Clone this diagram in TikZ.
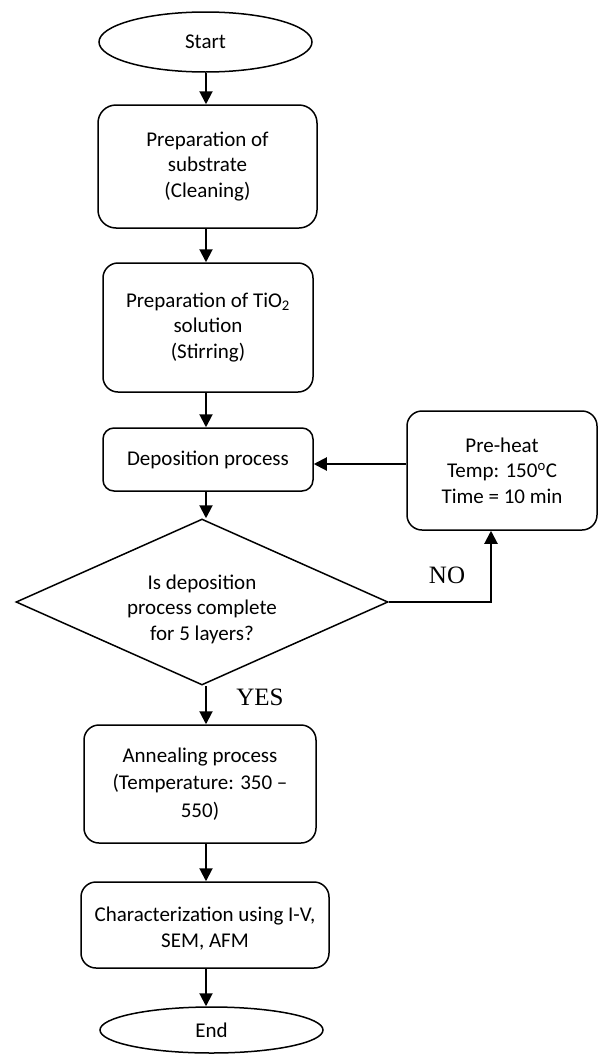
\documentclass[tikz,border=0pt]{standalone}
\usepackage{fontspec}
\setmainfont{Carlito}
\newfontfamily\tnr{Liberation Serif}
\usetikzlibrary{shapes.geometric,arrows.meta}
\begin{document}
\begin{tikzpicture}[x=1pt,y=-1pt,
  every node/.style={font=\fontsize{21}{25.5}\selectfont, inner sep=0pt, align=center},
  term/.style={draw, line width=1.5pt, ellipse},
  proc/.style={draw, line width=1.5pt, rounded corners=15pt, rectangle},
  dec/.style={draw, line width=1.5pt, diamond, aspect=2.24},
  arr/.style={line width=2pt, -{Triangle[width=13pt,length=13pt]}},
  lab/.style={font=\tnr\fontsize{25}{30}\selectfont}]
\useasboundingbox (0,0) rectangle (602,1055);
\fill[white] (0,0) rectangle (602,1055);
\coordinate (col) at (206,0);
\coordinate (nox) at (491,0);
\coordinate (m) at (0,464);

\node[term, minimum width=213pt, minimum height=60pt] (start) at (205.5,42) {Start};
\node[proc, minimum width=219pt, minimum height=123pt, rounded corners=18pt] (b1) at (207.5,166.5) {Preparation of\\substrate\\(Cleaning)};
\node[proc, minimum width=210pt, minimum height=129pt] (b2) at (208,327.5) {Preparation of TiO\textsubscript{2}\\solution\\(Stirring)};
\node[proc, minimum width=210pt, minimum height=63pt, rounded corners=11pt] (b3) at (208,459.5) {Deposition process};
\node[proc, minimum width=190pt, minimum height=119pt] (pre) at (502,470.5) {Pre-heat\\Temp: 150\textsuperscript{o}C\\Time = 10 min};
\node[dec, minimum width=372pt, minimum height=166pt] (dia) at (202,602) {\rule{0pt}{29pt}Is deposition\\process complete\\for 5 layers?};
\node[proc, minimum width=232pt, minimum height=118pt, font=\fontsize{21}{27.5}\selectfont] (b4) at (200,784) {Annealing process\\(Temperature: 350 --\\550)};
\node[proc, minimum width=248pt, minimum height=86pt] (b5) at (205,925) {\rule{0pt}{22pt}Characterization using I-V,\\SEM, AFM};
\node[term, minimum width=223pt, minimum height=46pt] (end) at (211.5,1030) {End};

\node[lab] (no) at (447,575) {NO};
\node[lab] (yes) at (260,697) {YES};

\draw[arr] (start.south -| col) -- (b1.north -| col);
\draw[arr] (b1.south -| col) -- (b2.north -| col);
\draw[arr] (b2.south -| col) -- (b3.north -| col);
\draw[arr] (b3.south -| col) -- (dia.north -| col);
\draw[arr] (pre.west |- m) -- (b3.east |- m);
\draw[arr] (dia.east) -| (pre.south -| nox);
\draw[arr] (dia.south -| col) -- (b4.north -| col);
\draw[arr] (b4.south -| col) -- (b5.north -| col);
\draw[arr] (b5.south -| col) -- (end.north -| col);
\end{tikzpicture}
\end{document}
